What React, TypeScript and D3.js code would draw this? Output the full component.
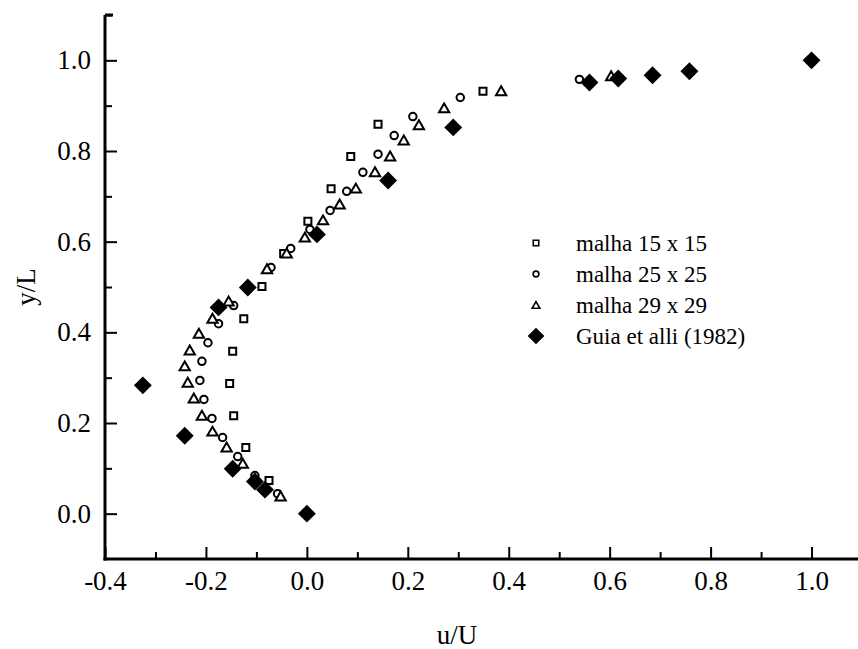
import React, { useEffect, useRef } from 'react';
import * as d3 from 'd3';

// u/U and y/L values
const malha15u = [-0.075, -0.121, -0.145, -0.153, -0.147, -0.125, -0.089, -0.046, 0.002, 0.048, 0.087, 0.141, 0.349];
const malha15v = [0.073, 0.146, 0.216, 0.287, 0.358, 0.430, 0.501, 0.574, 0.645, 0.717, 0.788, 0.859, 0.932];

const malha25u = [-0.058, -0.103, -0.137, -0.167, -0.188, -0.204, -0.212, -0.208, -0.196, -0.175, -0.145, -0.071, -0.032, 0.006, 0.046, 0.079, 0.111, 0.141, 0.173, 0.210, 0.304, 0.540];
const malha25v = [0.044, 0.084, 0.126, 0.168, 0.210, 0.252, 0.294, 0.336, 0.377, 0.419, 0.459, 0.543, 0.585, 0.627, 0.669, 0.711, 0.753, 0.793, 0.834, 0.876, 0.918, 0.958];

const malha29u = [-0.052, -0.127, -0.159, -0.187, -0.208, -0.224, -0.236, -0.242, -0.232, -0.214, -0.187, -0.155, -0.079, -0.040, -0.004, 0.032, 0.065, 0.097, 0.135, 0.165, 0.192, 0.222, 0.272, 0.385, 0.603];
const malha29v = [0.038, 0.110, 0.146, 0.181, 0.216, 0.254, 0.289, 0.325, 0.360, 0.397, 0.430, 0.468, 0.539, 0.574, 0.609, 0.647, 0.682, 0.717, 0.753, 0.788, 0.823, 0.857, 0.894, 0.932, 0.965];

const guiaU = [0.0, -0.083, -0.103, -0.147, -0.242, -0.325, -0.175, -0.117, 0.020, 0.161, 0.290, 0.560, 0.617, 0.685, 0.758, 1.0];
const guiaV = [0.0, 0.053, 0.071, 0.099, 0.172, 0.283, 0.455, 0.499, 0.616, 0.735, 0.852, 0.951, 0.960, 0.967, 0.976, 1.0];

const legendLabels = ['malha 15 x 15', 'malha 25 x 25', 'malha 29 x 29', 'Guia et alli (1982)'];
const xMajor = [-0.4, -0.2, 0.0, 0.2, 0.4, 0.6, 0.8, 1.0];
const xMinor = [-0.3, -0.1, 0.1, 0.3, 0.5, 0.7, 0.9];
const yMajor = [0.0, 0.2, 0.4, 0.6, 0.8, 1.0];
const yMinor = [0.1, 0.3, 0.5, 0.7, 0.9, 1.1];

const W = 858;
const H = 649;
const FONT = "'Liberation Serif', 'Times New Roman', serif";

const App = () => {
    const ref = useRef<SVGSVGElement>(null);

    useEffect(() => {
        const svg = d3.select(ref.current);
        svg.selectAll('*').remove();

        const x = d3.scaleLinear().domain([-0.4, 1.1]).range([105, 862]);
        const y = d3.scaleLinear().domain([-0.1, 1.1]).range([559, 15]);
        const fmt = (d: number) => d.toFixed(1);

        // minor ticks first
        svg.append('g')
            .attr('transform', `translate(0,${y(-0.1)})`)
            .call(d3.axisBottom(x).tickValues(xMinor).tickSize(-7).tickSizeOuter(0).tickFormat(() => ''))
            .call(g => g.select('.domain').remove());
        svg.append('g')
            .attr('transform', `translate(${x(-0.4)},0)`)
            .call(d3.axisLeft(y).tickValues(yMinor).tickSize(-7).tickSizeOuter(0).tickFormat(() => ''))
            .call(g => g.select('.domain').remove());

        const xAxis = svg.append('g')
            .attr('transform', `translate(0,${y(-0.1)})`)
            .call(d3.axisBottom(x).tickValues(xMajor).tickSize(-12).tickSizeOuter(0).tickPadding(12).tickFormat(fmt as any));
        const yAxis = svg.append('g')
            .attr('transform', `translate(${x(-0.4)},0)`)
            .call(d3.axisLeft(y).tickValues(yMajor).tickSize(-12).tickSizeOuter(0).tickPadding(14).tickFormat(fmt as any));

        svg.selectAll('.tick line').attr('stroke', '#000').attr('stroke-width', 2);
        [xAxis, yAxis].forEach(a => {
            a.select('.domain').attr('stroke', '#000').attr('stroke-width', 3);
            a.selectAll('text').attr('font-family', FONT).attr('font-size', 27).attr('fill', '#000');
        });
        xAxis.select('.domain').attr('d', `M${x(-0.4) - 1.5},0H${W}`);
        yAxis.select('.domain').attr('d', `M0,${y(1.1)}V${y(-0.1) + 1.5}`);
        // little cap at the top of the y axis
        yAxis.append('line')
            .attr('x1', 0).attr('x2', 8).attr('y1', y(1.1)).attr('y2', y(1.1))
            .attr('stroke', '#000').attr('stroke-width', 3);

        // axis titles
        svg.append('text')
            .attr('x', 457).attr('y', 644)
            .attr('text-anchor', 'middle')
            .attr('font-family', FONT).attr('font-size', 27)
            .text('u/U');
        svg.append('text')
            .attr('transform', `translate(35,${y(0.5)}) rotate(-90)`)
            .attr('text-anchor', 'middle')
            .attr('font-family', FONT).attr('font-size', 27)
            .text('y/L');

        const sq = d3.symbol().type(d3.symbolSquare);
        const tri = d3.symbol().type(d3.symbolTriangle);
        const circ = d3.symbol().type(d3.symbolCircle);

        const drawMark = (sel: any, kind: string, big: boolean) => {
            const open = (s: any) => s.attr('fill', '#fff').attr('stroke', '#000').attr('stroke-width', big ? 2 : 1.6);
            if (kind === 'square') {
                open(sel.attr('d', sq.size(big ? 49 : 30)())
                    .attr('transform', (p: number[]) => `translate(${p[0]},${p[1]})`));
            } else if (kind === 'circle') {
                open(sel.attr('d', circ.size(big ? 44 : 26)())
                    .attr('transform', (p: number[]) => `translate(${p[0]},${p[1]})`));
            } else if (kind === 'triangle') {
                open(sel.attr('d', tri.size(big ? 46 : 26)())
                    .attr('transform', (p: number[]) => `translate(${p[0]},${p[1] + 1})`));
            } else {
                sel.attr('d', sq.size(big ? 160 : 140)())
                    .attr('transform', (p: number[]) => `translate(${p[0]},${p[1]}) rotate(45)`)
                    .attr('fill', '#000').attr('stroke', 'none');
            }
        };

        const drawSeries = (us: number[], vs: number[], kind: string) => {
            const pts = us.map((u, i) => [x(u), y(vs[i])]);
            const sel = svg.append('g').selectAll('path').data(pts).enter().append('path');
            drawMark(sel, kind, true);
        };

        drawSeries(malha15u, malha15v, 'square');
        drawSeries(malha25u, malha25v, 'circle');
        drawSeries(malha29u, malha29v, 'triangle');
        drawSeries(guiaU, guiaV, 'diamond');

        // legend
        const kinds = ['square', 'circle', 'triangle', 'diamond'];
        const lg = svg.append('g');
        legendLabels.forEach((lab, i) => {
            const ly = 243 + i * 31;
            drawMark(lg.append('path').datum([536, ly]), kinds[i], false);
            lg.append('text')
                .attr('x', 576).attr('y', ly)
                .attr('dy', '0.35em')
                .attr('font-family', FONT).attr('font-size', 23)
                .text(lab);
        });
    }, []);

    return (
        <svg ref={ref} width={W} height={H}
            style={{ position: 'absolute', left: 0, top: 0, background: '#fff' }} />
    );
};

export default App;
